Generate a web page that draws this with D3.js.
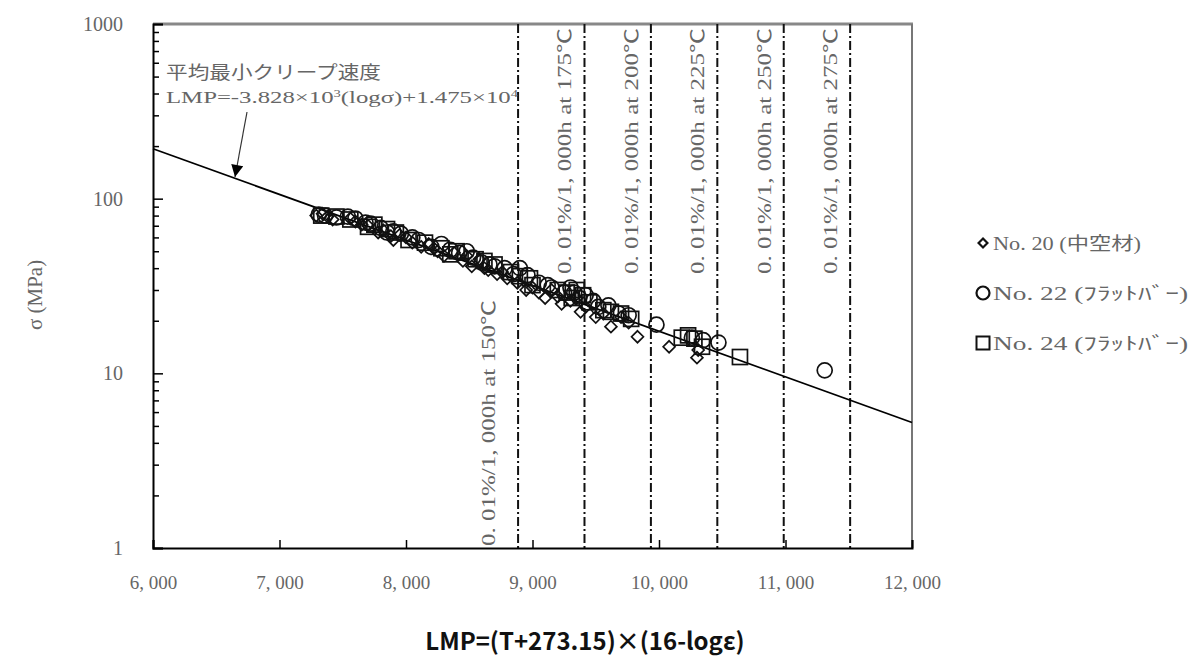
<!DOCTYPE html>
<html>
<head>
<meta charset="utf-8">
<script src="https://cdn.jsdelivr.net/npm/d3@7"></script>
<style>
  body { margin: 0; background: #fff; }
  .serif { font-family: "Liberation Serif", "Noto Sans CJK JP", serif; fill: #666; }
</style>
</head>
<body>
<div id="chart"></div>
<script>
//
// Data
//
var xTicks = [6000, 7000, 8000, 9000, 10000, 11000, 12000];
var xTickLabels = ["6, 000", "7, 000", "8, 000", "9, 000", "10, 000", "11, 000", "12, 000"];
var yMajor = [1, 10, 100, 1000];
var yTickLabels = ["1", "10", "100", "1000"];
var yMinor = [2, 3, 4, 5, 6, 7, 8, 9, 20, 30, 40, 50, 60, 70, 80, 90, 200, 300, 400, 500, 600, 700, 800, 900];

// fit: LMP = -3.828e3 log(sigma) + 1.475e4
var fitSlope = -3.828e3;
var fitIntercept = 1.475e4;
var fitLMP = [6000, 12000];

// 0.01%/1,000h lines
var limitTemps = ["150", "175", "200", "225", "250", "275"];
var limitLMP = [8886, 9411, 9936, 10461, 10986, 11511];

var no20 = [[7290,80],[7340,82],[7380,79],[7420,76],[7560,77],[7600,74],[7650,71],[7700,70],[7780,64],
  [7820,66],[7880,61],[7900,58],[7950,62],[8000,60],[8050,56],[8120,53],[8180,55],[8220,52],[8250,50],
  [8300,47],[8380,49],[8450,44],[8480,47],[8520,41],[8580,45],[8620,40],[8650,39],[8720,37],[8760,38],
  [8800,35],[8880,33],[8950,30],[9000,31],[9050,29],[9100,27],[9150,30],[9200,27.5],[9230,25],[9300,26],
  [9350,27],[9380,22.5],[9420,24],[9500,21],[9560,22],[9620,18.5],[9700,21],[9760,19.5],[9830,16.2],
  [10080,14.2],[10300,12.3],[10310,13.6]];
var no22 = [[7310,81],[7360,80],[7450,78],[7540,79],[7600,77],[7680,73],[7720,72],[7800,68],[7850,64],
  [7900,65],[7960,63],[8050,60],[8100,58],[8200,53],[8280,55],[8350,51],[8420,49],[8480,50],[8530,46],
  [8600,43],[8660,42],[8700,41],[8780,40],[8850,37],[8900,40],[8960,36.5],[9050,33],[9120,32],[9150,31],
  [9250,29],[9300,31],[9330,29],[9370,27],[9420,28],[9480,26],[9520,24],[9600,24.5],[9680,22],[9760,21.5],
  [9980,19],[10260,16],[10350,15.5],[10470,15],[11310,10.4]];
var no24 = [[7330,80],[7450,79],[7560,76],[7700,69],[7750,71],[7850,67],[7920,64],[8020,58],[8150,56],
  [8280,52],[8350,48],[8400,50],[8550,45],[8620,44],[8700,42],[8830,38],[8900,36],[8980,35],[9000,32],
  [9200,30],[9270,29],[9310,27],[9350,30],[9400,28],[9450,25.5],[9560,23],[9620,22.5],[9700,22],
  [9780,20.5],[10180,16],[10230,16.5],[10280,15.8],[10340,14.2],[10640,12.4]];

var legendLabels = ["No. 20 (中空材)", "No. 22 (ﾌﾗｯﾄﾊﾞｰ)", "No. 24 (ﾌﾗｯﾄﾊﾞｰ)"];

//
// Global Vars
//
var width = 1189, height = 662;
var plot = {left: 153, right: 912, top: 24, bottom: 548};

var x = d3.scaleLinear().domain([6000, 12000]).range([plot.left, plot.right]);
var y = d3.scaleLog().domain([1, 1000]).range([plot.bottom, plot.top]);

var svg = d3.select("#chart").append("svg")
    .attr("width", width)
    .attr("height", height);

//
// Frame
//
svg.append("line")
    .attr("x1", plot.left).attr("x2", plot.right + 1)
    .attr("y1", plot.top).attr("y2", plot.top)
    .attr("stroke", "#888").attr("stroke-width", 3);
svg.append("line")
    .attr("x1", plot.right).attr("x2", plot.right)
    .attr("y1", plot.top).attr("y2", plot.bottom)
    .attr("stroke", "#777").attr("stroke-width", 2);

//
// Limit lines
//
svg.append("g").selectAll("line")
    .data(limitLMP)
    .enter().append("line")
    .attr("x1", function(d) { return x(d); })
    .attr("x2", function(d) { return x(d); })
    .attr("y1", plot.top)
    .attr("y2", plot.bottom)
    .attr("stroke", "#111")
    .attr("stroke-width", 2)
    .attr("stroke-dasharray", "9,3,2,3");

svg.append("g").selectAll("text")
    .data(limitLMP)
    .enter().append("text")
    .attr("class", "serif")
    .attr("font-size", 18)
    .attr("textLength", 246)
    .attr("lengthAdjust", "spacingAndGlyphs")
    .attr("text-anchor", function(d, i) { return i == 0 ? "start" : "end"; })
    .attr("transform", function(d, i) {
        if (i == 0) return "translate(" + (x(d) - 23) + "," + (plot.bottom - 2) + ") rotate(-90)";
        return "translate(" + (x(d) - 13) + "," + (plot.top + 4) + ") rotate(-90)";
    })
    .text(function(d, i) { return "0. 01%/1, 000h at " + limitTemps[i] + "℃"; });

//
// Axes
//
var xAxis = svg.append("g")
    .attr("transform", "translate(0," + plot.bottom + ")")
    .call(d3.axisBottom(x).tickValues(xTicks).tickSize(-8).tickPadding(28)
        .tickFormat(function(d, i) { return xTickLabels[i]; }));
xAxis.attr("font-size", 19);
xAxis.select(".domain").attr("stroke", "#000").attr("stroke-width", 2);
xAxis.selectAll(".tick line").attr("stroke", "#000").attr("stroke-width", 1.5);
xAxis.selectAll(".tick text").attr("class", "serif");

var yAxis = svg.append("g")
    .attr("transform", "translate(" + plot.left + ",0)")
    .call(d3.axisLeft(y).tickValues(yMajor).tickSize(-10).tickPadding(30)
        .tickFormat(function(d, i) { return yTickLabels[i]; }));
yAxis.attr("font-size", 20);
yAxis.select(".domain").attr("stroke", "#000").attr("stroke-width", 2);
yAxis.selectAll(".tick line").attr("stroke", "#000").attr("stroke-width", 1.5);
yAxis.selectAll(".tick text").attr("class", "serif");

var yMinorAxis = svg.append("g")
    .attr("transform", "translate(" + plot.left + ",0)")
    .call(d3.axisLeft(y).tickValues(yMinor).tickSize(-6).tickFormat(""));
yMinorAxis.select(".domain").remove();
yMinorAxis.selectAll(".tick line").attr("stroke", "#000").attr("stroke-width", 1.5);

svg.append("text")
    .attr("class", "serif")
    .attr("font-size", 21)
    .attr("text-anchor", "middle")
    .attr("transform", "translate(42,295) rotate(-90)")
    .text("σ  (MPa)");

svg.append("text")
    .attr("x", 585)
    .attr("y", 650)
    .attr("text-anchor", "middle")
    .attr("font-family", "'Noto Sans CJK JP', sans-serif")
    .attr("font-weight", "bold")
    .attr("font-size", 24)
    .attr("fill", "#111")
    .text("LMP=(T+273.15)×(16-logε)");

//
// Fit line
//
var fitLine = d3.line()
    .x(function(d) { return x(d); })
    .y(function(d) { return y(Math.pow(10, (d - fitIntercept) / fitSlope)); });

svg.append("path")
    .datum(fitLMP)
    .attr("d", fitLine)
    .attr("fill", "none")
    .attr("stroke", "#000")
    .attr("stroke-width", 1.8);

//
// Annotation
//
svg.append("text")
    .attr("class", "serif")
    .attr("x", 166).attr("y", 79)
    .attr("font-size", 18)
    .attr("textLength", 215)
    .attr("lengthAdjust", "spacingAndGlyphs")
    .attr("fill", "#555")
    .text("平均最小クリープ速度");

var eq = svg.append("text")
    .attr("class", "serif")
    .attr("x", 166).attr("y", 103)
    .attr("font-size", 17)
    .attr("textLength", 352)
    .attr("lengthAdjust", "spacingAndGlyphs")
    .attr("fill", "#555");
eq.append("tspan").text("LMP=-3.828×10");
eq.append("tspan").attr("dy", -6).attr("font-size", 10).text("3");
eq.append("tspan").attr("dy", 6).text("(logσ)+1.475×10");
eq.append("tspan").attr("dy", -6).attr("font-size", 10).text("4");

svg.append("defs").append("marker")
    .attr("id", "arrow")
    .attr("viewBox", "0 0 10 10")
    .attr("refX", 10).attr("refY", 5)
    .attr("markerWidth", 14).attr("markerHeight", 12)
    .attr("markerUnits", "userSpaceOnUse")
    .attr("orient", "auto")
    .append("path")
    .attr("d", "M0,0L10,5L0,10Z")
    .attr("fill", "#000");

svg.append("line")
    .attr("x1", 247).attr("y1", 112)
    .attr("x2", 235).attr("y2", 177)
    .attr("stroke", "#333")
    .attr("stroke-width", 1.2)
    .attr("marker-end", "url(#arrow)");

//
// Points
//
var pts = svg.append("g")
    .attr("fill", "none")
    .attr("stroke", "#111")
    .attr("stroke-width", 1.7);

pts.selectAll(".d20")
    .data(no20)
    .enter().append("path")
    .attr("d", d3.symbol().type(d3.symbolDiamond2).size(90))
    .attr("transform", function(d) { return "translate(" + x(d[0]) + "," + y(d[1]) + ")"; });

pts.selectAll(".c22")
    .data(no22)
    .enter().append("circle")
    .attr("cx", function(d) { return x(d[0]); })
    .attr("cy", function(d) { return y(d[1]); })
    .attr("r", 7.5);

pts.selectAll(".s24")
    .data(no24)
    .enter().append("rect")
    .attr("x", function(d) { return x(d[0]) - 7.5; })
    .attr("y", function(d) { return y(d[1]) - 7.5; })
    .attr("width", 15)
    .attr("height", 15);

//
// Legend
//
var legend = svg.append("g")
    .attr("transform", "translate(983,243)");

var items = legend.selectAll("g")
    .data(legendLabels)
    .enter().append("g")
    .attr("transform", function(d, i) { return "translate(0," + (i * 50) + ")"; });

items.append("text")
    .attr("class", "serif")
    .attr("x", 10)
    .attr("y", 7)
    .attr("font-size", 18)
    .attr("textLength", function(d, i) { return i == 0 ? 148 : 195; })
    .attr("lengthAdjust", "spacingAndGlyphs")
    .text(function(d) { return d; });

items.filter(function(d, i) { return i == 0; }).append("path")
    .attr("d", d3.symbol().type(d3.symbolDiamond2).size(50))
    .attr("fill", "none").attr("stroke", "#111").attr("stroke-width", 2.2);
items.filter(function(d, i) { return i == 1; }).append("circle")
    .attr("r", 6.5)
    .attr("fill", "none").attr("stroke", "#111").attr("stroke-width", 2.2);
items.filter(function(d, i) { return i == 2; }).append("rect")
    .attr("x", -6.5).attr("y", -6.5).attr("width", 13).attr("height", 13)
    .attr("fill", "none").attr("stroke", "#111").attr("stroke-width", 2);
</script>
</body>
</html>
